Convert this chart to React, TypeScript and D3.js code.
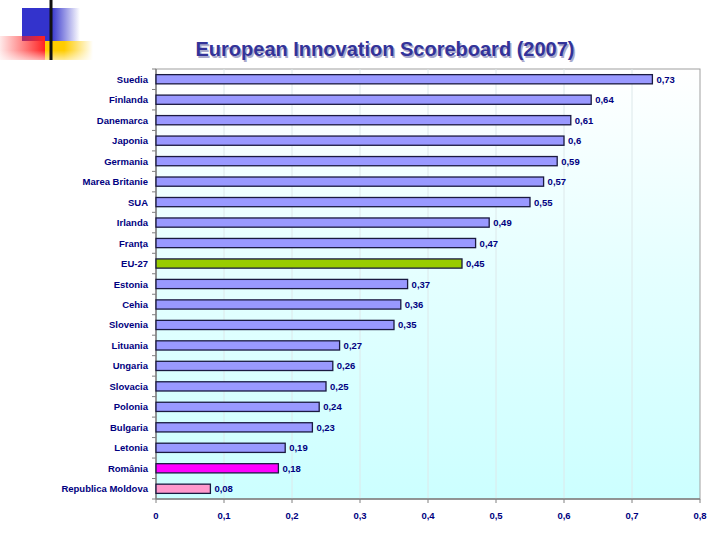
import React from 'react';
import * as d3 from 'd3';

const countries = [
  'Suedia', 'Finlanda', 'Danemarca', 'Japonia', 'Germania', 'Marea Britanie', 'SUA',
  'Irlanda', 'Franța', 'EU-27', 'Estonia', 'Cehia', 'Slovenia', 'Lituania', 'Ungaria',
  'Slovacia', 'Polonia', 'Bulgaria', 'Letonia', 'România', 'Republica Moldova',
];
const scores = [
  0.73, 0.64, 0.61, 0.6, 0.59, 0.57, 0.55, 0.49, 0.47, 0.45, 0.37, 0.36, 0.35, 0.27,
  0.26, 0.25, 0.24, 0.23, 0.19, 0.18, 0.08,
];
const xTicks = [0, 0.1, 0.2, 0.3, 0.4, 0.5, 0.6, 0.7, 0.8];
const highlight: Record<string, string> = {
  'EU-27': '#99cc00',
  'România': '#ff00ff',
  'Republica Moldova': '#ff99cc',
};

const W = 720;
const H = 540;
const margin = { top: 69, right: 20, bottom: 41, left: 156 };
const innerW = W - margin.left - margin.right;
const innerH = H - margin.top - margin.bottom;
const font = '"Liberation Sans", Arial, sans-serif';
const navy = '#000080';
const fmt = (v: number) => String(v).replace('.', ',');

const App: React.FC = () => {
  const x = d3.scaleLinear().domain([0, 0.8]).range([0, innerW]);
  const y = d3.scaleBand<string>().domain(countries).range([0, innerH]).paddingInner(0.55).paddingOuter(0.275);
  const step = y.step();
  const bounds = d3.range(countries.length + 1).map((i) => i * step);

  return (
    <svg width={W} height={H} style={{ position: 'absolute', left: 0, top: 0 }}>
      <defs>
        <linearGradient id="bg" x1="0" y1="0" x2="0" y2="1">
          <stop offset="0" stopColor="#ffffff" />
          <stop offset="0.45" stopColor="#e6ffff" />
          <stop offset="1" stopColor="#ccffff" />
        </linearGradient>
        <linearGradient id="blueFade" x1="0" y1="0" x2="1" y2="0">
          <stop offset="0" stopColor="#3333cc" />
          <stop offset="0.5" stopColor="#3333cc" />
          <stop offset="1" stopColor="#3333cc" stopOpacity="0" />
        </linearGradient>
        <linearGradient id="redFade" x1="1" y1="0" x2="0" y2="0">
          <stop offset="0" stopColor="#ff2222" />
          <stop offset="1" stopColor="#ff2222" stopOpacity="0.1" />
        </linearGradient>
        <linearGradient id="yellowFade" x1="0" y1="0" x2="1" y2="0">
          <stop offset="0" stopColor="#ffcc00" />
          <stop offset="0.4" stopColor="#ffcc00" />
          <stop offset="1" stopColor="#ffcc00" stopOpacity="0" />
        </linearGradient>
        <linearGradient id="vFade" x1="0" y1="0" x2="0" y2="1">
          <stop offset="0" stopColor="#fff" stopOpacity="0" />
          <stop offset="0.6" stopColor="#fff" stopOpacity="0" />
          <stop offset="1" stopColor="#fff" stopOpacity="0.6" />
        </linearGradient>
      </defs>

      {/* slide decoration */}
      <rect x={22} y={8} width={58} height={33} fill="url(#blueFade)" />
      <rect x={0} y={36} width={45} height={24} fill="url(#redFade)" />
      <rect x={45} y={41} width={48} height={19} fill="url(#yellowFade)" />
      <rect x={0} y={36} width={95} height={24} fill="url(#vFade)" />
      <rect x={49.5} y={0} width={3} height={60} fill="#111" />

      {/* title */}
      <text x={385} y={56} textAnchor="middle" fontFamily={font} fontSize={20} fontWeight="bold" fill="#aaaacc" transform="translate(1.5,1.5)">
        European Innovation Scoreboard (2007)
      </text>
      <text x={385} y={56} textAnchor="middle" fontFamily={font} fontSize={20} fontWeight="bold" fill="#333399">
        European Innovation Scoreboard (2007)
      </text>

      <g transform={`translate(${margin.left},${margin.top})`}>
        <rect width={innerW} height={innerH} fill="url(#bg)" stroke="#a0a0a0" strokeWidth={1} />
        {xTicks.slice(1, -1).map((t) => (
          <line key={t} x1={x(t)} x2={x(t)} y1={0} y2={innerH} stroke="#dde8ea" strokeWidth={1} />
        ))}

        {/* left axis with band ticks */}
        <line x1={0} x2={0} y1={0} y2={innerH} stroke="#808080" strokeWidth={1.5} />
        {bounds.map((b, i) => (
          <line key={i} x1={-4} x2={0} y1={b} y2={b} stroke="#808080" strokeWidth={1} />
        ))}
        {/* bottom axis */}
        <line x1={0} x2={innerW} y1={innerH} y2={innerH} stroke="#808080" strokeWidth={1.5} />
        {xTicks.map((t) => (
          <g key={t} transform={`translate(${x(t)},${innerH})`}>
            <line y1={0} y2={4} stroke="#808080" strokeWidth={1} />
            <text y={20} textAnchor="middle" fontFamily={font} fontSize={9.5} fontWeight="bold" fill={navy}>
              {fmt(t)}
            </text>
          </g>
        ))}

        {countries.map((c, i) => {
          const by = y(c)!;
          const v = scores[i];
          return (
            <g key={c}>
              <text x={-8} y={by + y.bandwidth() / 2 + 3.5} textAnchor="end" fontFamily={font} fontSize={9.5} fontWeight="bold" fill={navy}>
                {c}
              </text>
              <rect x={0} y={by} width={x(v)} height={y.bandwidth()} fill={highlight[c] ?? '#9999ff'} stroke="#1a1a40" strokeWidth={1.3} />
              <text x={x(v) + 4} y={by + y.bandwidth() / 2 + 3.5} fontFamily={font} fontSize={9.5} fontWeight="bold" fill={navy}>
                {fmt(v)}
              </text>
            </g>
          );
        })}
      </g>
    </svg>
  );
};

export default App;
